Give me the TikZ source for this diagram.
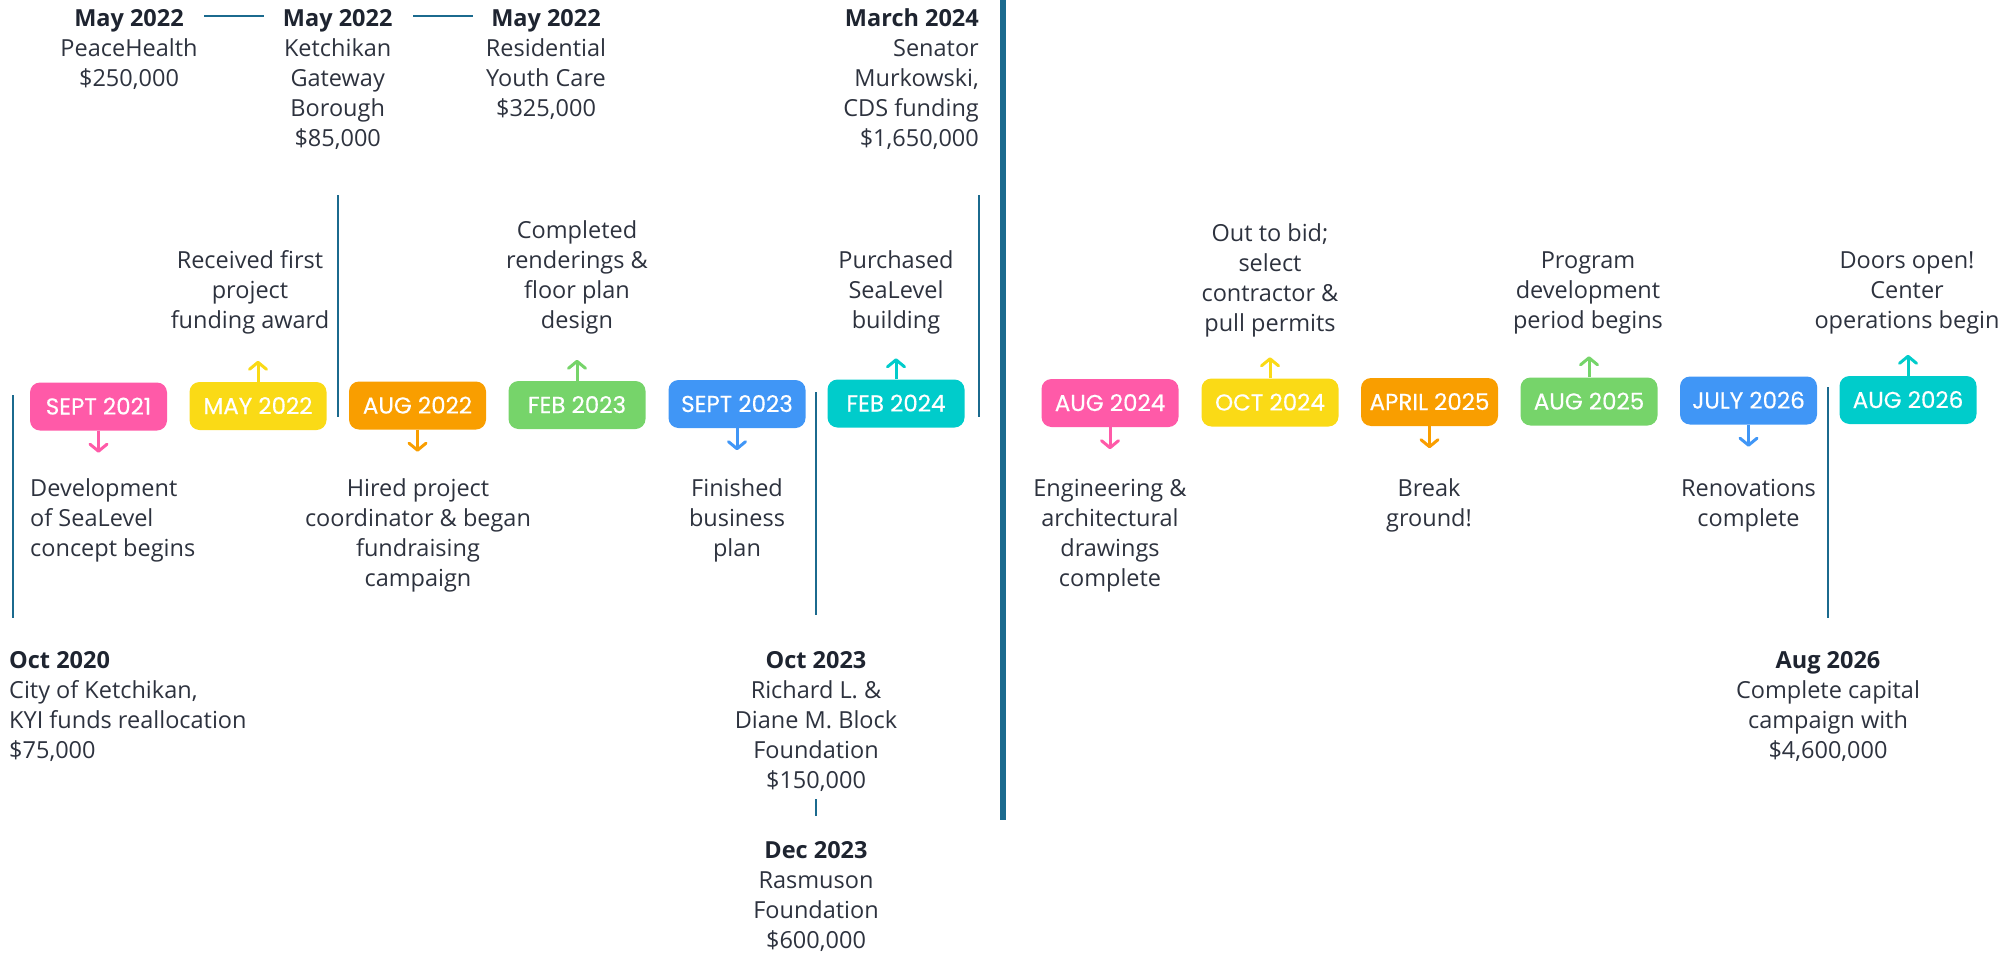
\documentclass[tikz,border=0pt]{standalone}
\usepackage{fontspec}
\setmainfont{Open Sans}
\newfontfamily\pillfont[FakeBold=0.4]{Poppins}
\usetikzlibrary{arrows.meta,calc}
\definecolor{pinkc}{RGB}{255,90,168}
\definecolor{yellowc}{RGB}{250,218,22}
\definecolor{orangec}{RGB}{249,158,0}
\definecolor{greenc}{RGB}{118,212,106}
\definecolor{bluec}{RGB}{64,150,246}
\definecolor{tealc}{RGB}{0,204,203}
\definecolor{linec}{RGB}{27,106,142}
\definecolor{textc}{RGB}{45,50,62}
\definecolor{headc}{RGB}{30,36,48}
\newcommand\fundhead[1]{{\color{headc}\bfseries #1}}
\begin{document}
\begin{tikzpicture}[x=1pt,y=-1pt,
  pill/.style={rectangle, rounded corners=10pt, minimum width=137pt, minimum height=48pt,
    inner sep=0pt, text=white, font=\pillfont\fontsize{23}{26}\selectfont,
    text height=16pt, text depth=0pt},
  txt/.style={inner sep=0pt, align=center, text=textc, font=\fontsize{23.5}{30}\selectfont},
  arr/.style={line width=3pt, -{Straight Barb[length=7pt,width=17pt,round]}},
  vline/.style={draw=linec, line width=2pt},
]
\path[use as bounding box] (0,0) rectangle (2016,953);

% separator and vertical lines
\draw[draw=linec, line width=6pt] (1002.5,0) -- (1002.5,820);
\draw[vline] (12.5,395) -- (12.5,618);
\draw[vline] (337.5,195) -- (337.5,417);
\draw[vline] (979,195) -- (979,417);
\draw[vline] (816,392) -- (816,615);
\draw[vline] (816,799) -- (816,816);
\draw[vline] (1828,387) -- (1828,618);

% pills
\node[pill, fill=pinkc]   (p1)  at (98.5,406.5) {SEPT 2021};
\node[pill, fill=yellowc] (p2)  at (258,406)    {MAY 2022};
\node[pill, fill=orangec] (p3)  at (417.5,405.5){AUG 2022};
\node[pill, fill=greenc]  (p4)  at (577,405)    {FEB 2023};
\node[pill, fill=bluec]   (p5)  at (737,404)    {SEPT 2023};
\node[pill, fill=tealc]   (p6)  at (896,403.5)  {FEB 2024};
\node[pill, fill=pinkc]   (p7)  at (1110,403)   {AUG 2024};
\node[pill, fill=yellowc] (p8)  at (1270,402.5) {OCT 2024};
\node[pill, fill=orangec] (p9)  at (1429.5,402) {APRIL 2025};
\node[pill, fill=greenc]  (p10) at (1589,401.5) {AUG 2025};
\node[pill, fill=bluec]   (p11) at (1748.5,400.5){JULY 2026};
\node[pill, fill=tealc]   (p12) at (1908,400)   {AUG 2026};

% arrow tips
\coordinate (t1)  at ($(p1.south)+(0,22)$);
\coordinate (t2)  at ($(p2.north)+(0,-21)$);
\coordinate (t3)  at ($(p3.south)+(0,22)$);
\coordinate (t4)  at ($(p4.north)+(0,-21)$);
\coordinate (t5)  at ($(p5.south)+(0,22)$);
\coordinate (t6)  at ($(p6.north)+(0,-21)$);
\coordinate (t7)  at ($(p7.south)+(0,22)$);
\coordinate (t8)  at ($(p8.north)+(0,-21)$);
\coordinate (t9)  at ($(p9.south)+(0,22)$);
\coordinate (t10) at ($(p10.north)+(0,-21)$);
\coordinate (t11) at ($(p11.south)+(0,22)$);
\coordinate (t12) at ($(p12.north)+(0,-21)$);
\draw[arr, pinkc]   (p1.south)  -- (t1);
\draw[arr, yellowc] (p2.north)  -- (t2);
\draw[arr, orangec] (p3.south)  -- (t3);
\draw[arr, greenc]  (p4.north)  -- (t4);
\draw[arr, bluec]   (p5.south)  -- (t5);
\draw[arr, tealc]   (p6.north)  -- (t6);
\draw[arr, pinkc]   (p7.south)  -- (t7);
\draw[arr, yellowc] (p8.north)  -- (t8);
\draw[arr, orangec] (p9.south)  -- (t9);
\draw[arr, greenc]  (p10.north) -- (t10);
\draw[arr, bluec]   (p11.south) -- (t11);
\draw[arr, tealc]   (p12.north) -- (t12);

% descriptions above (anchored at last line baseline)
\node[txt, anchor=base] (d2)  at (250,328)  {Received first\\project\\funding award};
\node[txt, anchor=base] (d4)  at (577,328)  {Completed\\renderings \&\\floor plan\\design};
\node[txt, anchor=base] (d6)  at (896,328)  {Purchased\\SeaLevel\\building};
\node[txt, anchor=base] (d8)  at (1270,331) {Out to bid;\\select\\contractor \&\\pull permits};
\node[txt, anchor=base] (d10) at (1588,328) {Program\\development\\period begins};
\node[txt, anchor=base] (d12) at (1907,328) {Doors open!\\Center\\operations begin};

% descriptions below
\node[txt, align=left, anchor=base west] (d1) at (30,556) {Development\\of SeaLevel\\concept begins};
\node[txt, anchor=base] (d3)  at (418,586)   {Hired project\\coordinator \& began\\fundraising\\campaign};
\node[txt, anchor=base] (d5)  at (737,556)   {Finished\\business\\plan};
\node[txt, anchor=base] (d7)  at (1110,586)  {Engineering \&\\architectural\\drawings\\complete};
\node[txt, anchor=base] (d9)  at (1429,526)  {Break\\ground!};
\node[txt, anchor=base] (d11) at (1748.5,526) {Renovations\\complete};

% funding
\node[txt, anchor=base] (f1) at (129,86) {\fundhead{May 2022}\\PeaceHealth\\\$250,000};
\node[txt, anchor=base] (f2) at (337.7,146) {\fundhead{May 2022}\\Ketchikan\\Gateway\\Borough\\\$85,000};
\node[txt, anchor=base] (f3) at (546,116) {\fundhead{May 2022}\\Residential\\Youth Care\\\$325,000};
\node[txt, align=right, anchor=base east] (f4) at (979,146) {\fundhead{March 2024}\\Senator\\Murkowski,\\CDS funding\\\$1,650,000};
\node[txt, align=left, anchor=base west] (f5) at (9,758) {\fundhead{Oct 2020}\\City of Ketchikan,\\KYI funds reallocation\\\$75,000};
\node[txt, anchor=base] (f6) at (816,788) {\fundhead{Oct 2023}\\Richard L. \&\\Diane M. Block\\Foundation\\\$150,000};
\node[txt, anchor=base] (f7) at (816,948) {\fundhead{Dec 2023}\\Rasmuson\\Foundation\\\$600,000};
\node[txt, anchor=base] (f8) at (1828,758) {\fundhead{Aug 2026}\\Complete capital\\campaign with\\\$4,600,000};

\draw[draw=linec, line width=2.5pt] (204,16) -- (264,16);
\draw[draw=linec, line width=2.5pt] (413,16) -- (473,16);
\end{tikzpicture}
\end{document}
